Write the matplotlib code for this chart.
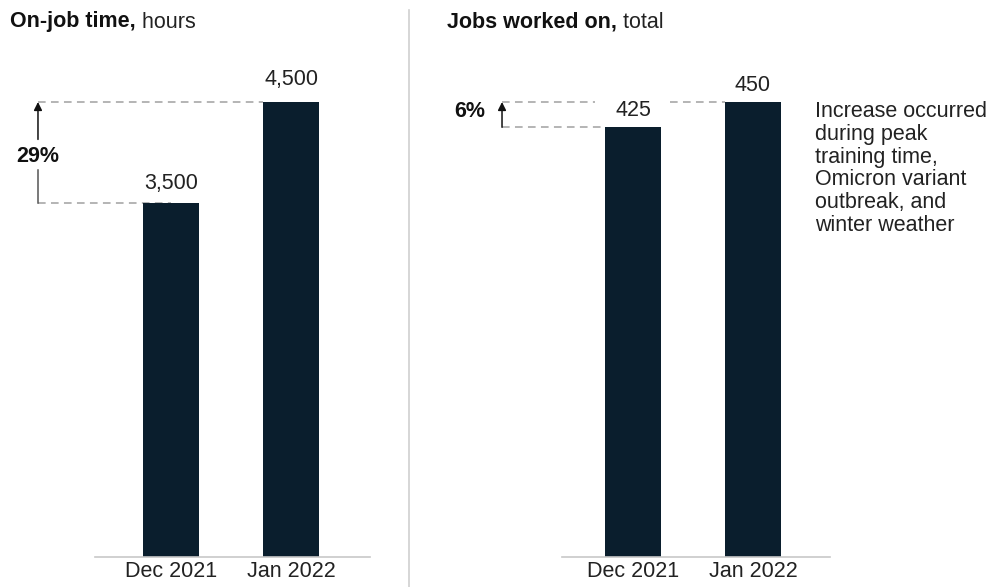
import matplotlib
matplotlib.use("Agg")
import matplotlib.pyplot as plt
from matplotlib.lines import Line2D

plt.rcParams['font.family'] = ['Liberation Sans', 'DejaVu Sans']

months = ["Dec 2021", "Jan 2022"]
hours = [3500, 4500]
hours_labels = ["3,500", "4,500"]
hours_change = "29%"
jobs = [425, 450]
jobs_labels = ["425", "450"]
jobs_change = "6%"
note = "Increase occurred\nduring peak\ntraining time,\nOmicron variant\noutbreak, and\nwinter weather"

bar_color = "#0a1e2d"
dash_color = "#a0a0a0"
W, H = 995, 587
fs = 15.5

fig = plt.figure(figsize=(W / 100, H / 100), dpi=100)


def px_axes(x0, x1, ybot, ytop):
    return fig.add_axes([x0 / W, (H - ybot) / H, (x1 - x0) / W, (ybot - ytop) / H])


def panel(ax, vals, xlim, ymax):
    x = range(len(vals))
    ax.bar(x, vals, width=0.467, color=bar_color, zorder=2)
    ax.set_xlim(*xlim)
    ax.set_ylim(0, ymax)
    for s in ["top", "right", "left"]:
        ax.spines[s].set_visible(False)
    ax.spines["bottom"].set_color("#c8c8c8")
    ax.spines["bottom"].set_linewidth(1.2)
    ax.set_yticks([])
    ax.set_xticks(list(x))
    ax.set_xticklabels(months, fontsize=fs, color="#222222")
    ax.tick_params(axis="x", length=0, pad=3)


dash = (0, (5, 3.5))

# left panel: on-job time
ax1 = px_axes(95, 370, 557, 102)
panel(ax1, hours, (-0.633, 1.658), hours[1])
ax1.text(0, hours[0] + 198, hours_labels[0], ha="center", va="center", fontsize=fs, color="#222222")
ax1.text(1, hours[1] + 218, hours_labels[1], ha="center", va="center", fontsize=fs, color="#222222")
ax1.plot([-1.108, 0.767], [hours[1], hours[1]], ls=dash, color=dash_color, lw=1.1, clip_on=False, zorder=1)
ax1.plot([-1.108, 0.0], [hours[0], hours[0]], ls=dash, color=dash_color, lw=1.1, clip_on=False, zorder=1)
ax1.plot([-1.108, -1.108], [hours[0], 3830], color="#555555", lw=1.1, clip_on=False)
ax1.annotate("", xy=(-1.108, hours[1]), xytext=(-1.108, 4130),
             arrowprops=dict(arrowstyle="-|>", color="#111111", lw=1.1, mutation_scale=12,
                             shrinkA=0, shrinkB=0), annotation_clip=False)
ax1.text(-1.108, 3965, hours_change, ha="center", va="center", fontsize=fs, fontweight="bold", color="#111111")

# right panel: jobs worked on
ax2 = px_axes(562, 830, 557, 102)
panel(ax2, jobs, (-0.592, 1.642), jobs[1])
ax2.text(0, jobs[0] + 17, jobs_labels[0], ha="center", va="center", fontsize=fs, color="#222222")
ax2.text(1, jobs[1] + 16, jobs_labels[1], ha="center", va="center", fontsize=fs, color="#222222")
# top guide is broken around the 425 label
ax2.plot([-1.092, -0.317], [jobs[1], jobs[1]], ls=dash, color=dash_color, lw=1.1, clip_on=False, zorder=1)
ax2.plot([0.308, 0.767], [jobs[1], jobs[1]], ls=dash, color=dash_color, lw=1.1, clip_on=False, zorder=1)
ax2.plot([-1.092, -0.233], [jobs[0], jobs[0]], ls=dash, color=dash_color, lw=1.1, clip_on=False, zorder=1)
ax2.annotate("", xy=(-1.092, jobs[1]), xytext=(-1.092, jobs[0]),
             arrowprops=dict(arrowstyle="-|>", color="#111111", lw=1.1, mutation_scale=12,
                             shrinkA=0, shrinkB=0), annotation_clip=False)
ax2.text(-1.233, 441, jobs_change, ha="right", va="center", fontsize=fs, fontweight="bold", color="#111111")
ax2.text(1.517, 451, note, ha="left", va="top", fontsize=fs, color="#222222", linespacing=1.11)

# titles
fig.canvas.draw()
renderer = fig.canvas.get_renderer()
for x0, bold, rest in [(10, "On-job time,", " hours"), (447, "Jobs worked on,", " total")]:
    t = fig.text(x0 / W, 1 - 22 / H, bold, fontsize=fs, fontweight="bold", va="center", color="#111111")
    bb = t.get_window_extent(renderer)
    fig.text(bb.x1 / W, 1 - 22 / H, rest, fontsize=fs, va="center", color="#222222")

# divider
fig.add_artist(Line2D([409 / W, 409 / W], [0, 1 - 10 / H], color="#d0d0d0", lw=1.2))

fig.savefig("out.png", dpi=100, facecolor="white")
